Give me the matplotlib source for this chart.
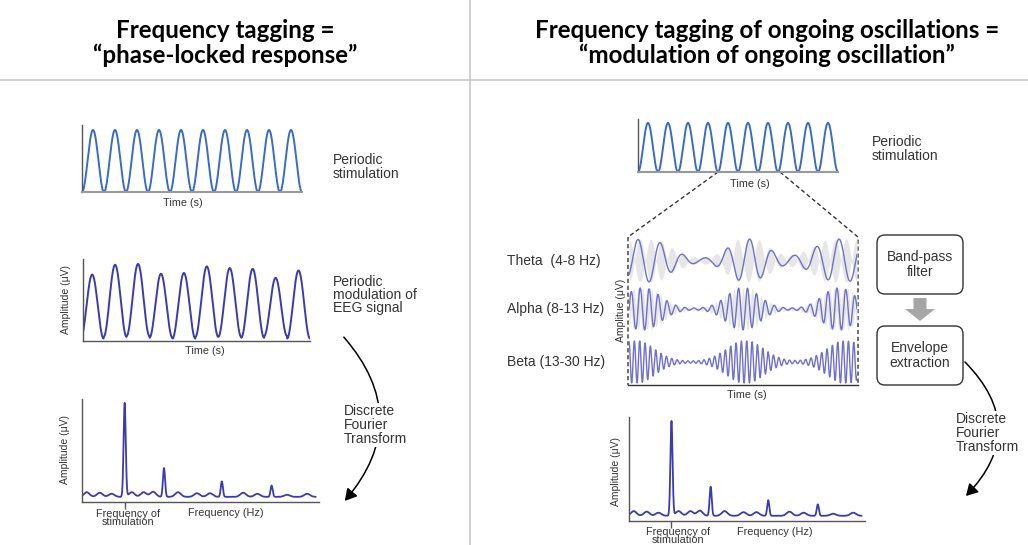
import numpy as np
import matplotlib.pyplot as plt
from matplotlib.patches import FancyBboxPatch, FancyArrowPatch, FancyArrow

plt.rcParams['font.family'] = ['Liberation Sans', 'DejaVu Sans']

# ---- data ----
stim_cycles = 10

# EEG response: relative peak / trough heights per cycle
eeg_peaks = [0.81, 0.93, 0.94, 0.82, 0.83, 0.91, 0.89, 0.88, 0.77, 0.86]
eeg_troughs = [0.03, 0.05, 0.06, 0.04, 0.03, 0.05, 0.05, 0.04, 0.06, 0.03]

# amplitude spectrum (frequency axis normalised 0..1)
spec_base = 0.05
spec_peak_f = [0.18, 0.346, 0.59, 0.80]
spec_peak_h = [0.91, 0.28, 0.15, 0.11]
noise_f = [0.02, 0.075, 0.125, 0.21, 0.26, 0.30, 0.405, 0.485, 0.54, 0.68, 0.74, 0.865, 0.95]
noise_h = [0.045, 0.04, 0.03, 0.045, 0.045, 0.05, 0.045, 0.035, 0.035, 0.04, 0.03, 0.02, 0.03]

# band-limited oscillations inside the zoomed window (time normalised 0..1)
band_names = ['Theta  (4-8 Hz)', 'Alpha (8-13 Hz)', 'Beta (13-30 Hz)']
band_cycles = [10.2, 25.5, 42.6]
band_phase = [0.039, 0.01, 0.0]
band_centers = [[0.07, 0.52, 0.93], [0.06, 0.50, 0.92], [0.03, 0.51, 0.95]]
band_widths = [[0.10, 0.08, 0.11], [0.075, 0.07, 0.07], [0.08, 0.08, 0.08]]
band_base = [0.03, 0.03, 0.03]
gray_lobes = [21, 50, 0]

W, H = 1028, 545
fig = plt.figure(figsize=(W / 100, H / 100), dpi=100)


def px_axes(x0, y0, x1, y1):
    return fig.add_axes([x0 / W, 1 - y1 / H, (x1 - x0) / W, (y1 - y0) / H])


def clean(ax, left='#555555', bottom='#999999', lw_b=1.5):
    for s in ['top', 'right']:
        ax.spines[s].set_visible(False)
    ax.spines['left'].set_color(left)
    ax.spines['left'].set_linewidth(1.0)
    ax.spines['bottom'].set_color(bottom)
    ax.spines['bottom'].set_linewidth(lw_b)
    ax.set_xticks([])
    ax.set_yticks([])
    ax.patch.set_alpha(0)


bg = fig.add_axes([0, 0, 1, 1])
bg.set_xlim(0, W)
bg.set_ylim(H, 0)
bg.axis('off')

# header separators
bg.plot([0, W], [80, 80], color='#c8c8c8', lw=1.2)
bg.plot([470, 470], [0, H], color='#c8c8c8', lw=1.2)

tfont = dict(family=['Lato', 'DejaVu Sans'], fontweight='bold', fontsize=17.4, ha='center', va='center')
bg.text(225, 31, 'Frequency tagging =', **tfont)
bg.text(225, 55, '\u201cphase-locked response\u201d', **tfont)
bg.text(767, 31, 'Frequency tagging of ongoing oscillations =', **tfont)
bg.text(767, 55, '\u201cmodulation of ongoing oscillation\u201d', **tfont)

stim_col = '#3a6cc2'
eeg_col = '#3b3bb0'
band_col = '#6f6fcc'
txt_col = '#333333'

t = np.linspace(0, stim_cycles, 2000)
stim = (1 - np.cos(2 * np.pi * t)) / 2

# ---- left: periodic stimulation ----
ax = px_axes(82, 125, 302, 192)
ax.plot(t, stim, color=stim_col, lw=1.4)
ax.set_xlim(0, stim_cycles)
ax.set_ylim(0, 1.08)
clean(ax)
bg.text(183, 203, 'Time (s)', fontsize=7.8, ha='center', va='center', color=txt_col)
bg.text(333, 167, 'Periodic\nstimulation', fontsize=10, ha='left', va='center', linespacing=0.95, color=txt_col)

# ---- left: EEG response ----
ax = px_axes(83, 259, 310, 341)
te = np.linspace(0, len(eeg_peaks), 2000)
cyc = np.minimum(te.astype(int), len(eeg_peaks) - 1)
ph = te - cyc
pk = np.array(eeg_peaks)[cyc]
tr = np.array(eeg_troughs)[cyc]
eeg = tr + (pk - tr) * (1 - np.cos(2 * np.pi * ph)) / 2
ax.plot(te - 0.1, eeg, color=eeg_col, lw=1.4)
ax.set_xlim(0, len(eeg_peaks) - 0.1)
ax.set_ylim(0, 1.0)
clean(ax, bottom='#555555', lw_b=1.0)
bg.text(66, 300, 'Amplitude (\u03bcV)', fontsize=7.5, rotation=90, ha='center', va='center', color=txt_col)
bg.text(205, 351, 'Time (s)', fontsize=7.8, ha='center', va='center', color=txt_col)
bg.text(333, 295, 'Periodic\nmodulation of\nEEG signal', fontsize=10, ha='left', va='center', linespacing=0.9, color=txt_col)

# ---- spectrum helper ----
f = np.linspace(0, 0.985, 3000)
spec = np.full_like(f, spec_base)
for fc, h in zip(noise_f, noise_h):
    spec += h * np.exp(-0.5 * ((f - fc) / 0.012) ** 2)
for fc, h in zip(spec_peak_f, spec_peak_h):
    spec += h * np.exp(-0.5 * ((f - fc) / 0.0045) ** 2)


def spectrum(x0, y0, x1, y1):
    ax = px_axes(x0, y0, x1, y1)
    ax.plot(f, spec, color=eeg_col, lw=1.3)
    ax.set_xlim(0, 1)
    ax.set_ylim(0, 1)
    clean(ax, bottom='#555555', lw_b=1.0)
    ax.set_xticks([spec_peak_f[0]])
    ax.set_xticklabels([])
    ax.tick_params(axis='x', length=5, width=1, color='#555555', direction='out')
    return ax


spectrum(82, 399, 319, 502)
bg.text(65, 450, 'Amplitude (\u03bcV)', fontsize=7.5, rotation=90, ha='center', va='center', color=txt_col)
bg.text(128, 518, 'Frequency of\nstimulation', fontsize=7.8, ha='center', va='center', linespacing=0.85, color=txt_col)
bg.text(226, 513, 'Frequency (Hz)', fontsize=7.8, ha='center', va='center', color=txt_col)

# left DFT arrow
bg.add_patch(FancyArrowPatch((342, 335), (343, 503), connectionstyle='arc3,rad=-0.44',
                             arrowstyle='-|>,head_length=7,head_width=4', color='black', lw=1.1))
bg.text(344, 425, 'Discrete\nFourier\nTransform', fontsize=10, ha='left', va='center', linespacing=1.0,
        color=txt_col, bbox=dict(facecolor='white', edgecolor='none', pad=1))

# ---- right: periodic stimulation ----
ax = px_axes(638, 119, 838, 172)
ax.plot(t, stim, color=stim_col, lw=1.4)
ax.set_xlim(0, stim_cycles)
ax.set_ylim(0, 1.08)
clean(ax)
bg.text(750, 184, 'Time (s)', fontsize=7.8, ha='center', va='center', color=txt_col)
bg.text(872, 149, 'Periodic\nstimulation', fontsize=10, ha='left', va='center', linespacing=0.95, color=txt_col)

# zoom frame
dash = dict(color='#333333', lw=1.0, linestyle=(0, (3, 2)))
bg.plot([718, 628, 628], [172, 237, 385], **dash)
bg.plot([780, 858, 858], [172, 237, 385], **dash)
bg.plot([628, 858], [385, 385], color='#333333', lw=1.0)

# band-limited oscillations
tb = np.linspace(0, 1, 3000)
rows = [(238, 283), (287, 331), (340, 384)]
for i in range(3):
    ax = px_axes(629, rows[i][0], 857, rows[i][1])
    env = np.full_like(tb, band_base[i])
    for c, w in zip(band_centers[i], band_widths[i]):
        env += np.exp(-0.5 * ((tb - c) / w) ** 2)
    env = np.minimum(env, 1.0)
    if gray_lobes[i]:
        genv = np.minimum(env * 1.1 + 0.03, 1.0)
        g = genv * np.abs(np.cos(np.pi * gray_lobes[i] * tb))
        ax.fill_between(tb, -g, g, color='#e6e6e6', lw=0)
    sig = env * np.cos(2 * np.pi * band_cycles[i] * (tb - band_phase[i]))
    ax.plot(tb, sig, color=band_col, lw=1.0)
    ax.set_xlim(0, 1)
    ax.set_ylim(-1.05, 1.05)
    ax.axis('off')
    bg.text(507, (rows[i][0] + rows[i][1]) / 2, band_names[i], fontsize=10, ha='left', va='center', color=txt_col)

bg.text(621, 310, 'Amplitue (\u03bcV)', fontsize=7.5, rotation=90, ha='center', va='center', color=txt_col,
        bbox=dict(facecolor='white', edgecolor='none', pad=0.5))
bg.text(747, 395, 'Time (s)', fontsize=7.8, ha='center', va='center', color=txt_col)

# processing boxes
for (y0, y1, label) in [(235, 294, 'Band-pass\nfilter'), (326, 385, 'Envelope\nextraction')]:
    bg.add_patch(FancyBboxPatch((877, y0), 86, y1 - y0, boxstyle='round,pad=0,rounding_size=8',
                                facecolor='white', edgecolor='#333333', lw=1.0))
    bg.text(920, (y0 + y1) / 2, label, fontsize=10, ha='center', va='center', linespacing=1.15, color=txt_col)
bg.add_patch(FancyArrow(920, 298, 0, 23, width=13, head_width=30, head_length=12,
                        length_includes_head=True, color='#a6a6a6', lw=0))

# right DFT arrow
bg.add_patch(FancyArrowPatch((963, 360), (964, 498), connectionstyle='arc3,rad=-0.5',
                             arrowstyle='-|>,head_length=7,head_width=4', color='black', lw=1.1))
bg.text(956, 433, 'Discrete\nFourier\nTransform', fontsize=10, ha='left', va='center', linespacing=1.0,
        color=txt_col, bbox=dict(facecolor='white', edgecolor='none', pad=1))

# right spectrum
spectrum(629, 417, 865, 521)
bg.text(616, 471, 'Amplitude (\u03bcV)', fontsize=7.5, rotation=90, ha='center', va='center', color=txt_col)
bg.text(678, 536, 'Frequency of\nstimulation', fontsize=7.8, ha='center', va='center', linespacing=0.85, color=txt_col)
bg.text(775, 532, 'Frequency (Hz)', fontsize=7.8, ha='center', va='center', color=txt_col)

fig.savefig('out.png', dpi=100)
